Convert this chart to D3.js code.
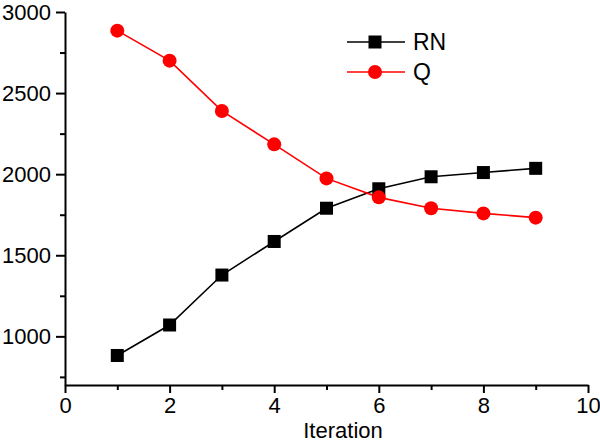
<!DOCTYPE html>
<html><head><meta charset="utf-8">
<script src="https://cdn.jsdelivr.net/npm/d3@7"></script>
<style>body{margin:0;background:#fff;} svg{display:block;font-family:"Liberation Sans",Arial,sans-serif;}</style>
</head><body>
<svg id="c" width="600" height="443"></svg>
<script>
const iterations = [1,2,3,4,5,6,7,8,9];
const rnValues = [882,1070,1378,1585,1790,1910,1984,2010,2036];
const qValues = [2885,2700,2390,2184,1974,1857,1790,1758,1732];
const xMajorTicks = [0,2,4,6,8,10];
const xMinorTicks = [1,3,5,7,9];
const yMajorTicks = [1000,1500,2000,2500,3000];
const yMinorTicks = [750,1250,1750,2250,2750];
const seriesNames = ["RN","Q"];
const xTitle = "Iteration";

const svg = d3.select("#c");
const x = d3.scaleLinear().domain([0,10]).range([65,588]);
const y = d3.scaleLinear().domain([700,3000]).range([385,12]);

// minor ticks
svg.append("g").attr("transform","translate(0,385)")
  .call(d3.axisBottom(x).tickValues(xMinorTicks).tickSize(5).tickFormat("").tickSizeOuter(0))
  .call(g=>{g.select(".domain").remove(); g.selectAll("line").attr("stroke","#000").attr("stroke-width",2);});
svg.append("g").attr("transform","translate(65,0)")
  .call(d3.axisLeft(y).tickValues(yMinorTicks).tickSize(5).tickFormat("").tickSizeOuter(0))
  .call(g=>{g.select(".domain").remove(); g.selectAll("line").attr("stroke","#000").attr("stroke-width",2);});

// major axes
svg.append("g").attr("transform","translate(0,385)")
  .call(d3.axisBottom(x).tickValues(xMajorTicks).tickSize(8).tickSizeOuter(0).tickPadding(4).tickFormat(d3.format("d")))
  .call(g=>{g.select(".domain").attr("stroke","#000").attr("stroke-width",2);
    g.selectAll("line").attr("stroke","#000").attr("stroke-width",2);
    g.selectAll("text").attr("font-size",22).attr("fill","#000").attr("font-family","Liberation Sans, Arial, sans-serif");});
svg.append("g").attr("transform","translate(65,0)")
  .call(d3.axisLeft(y).tickValues(yMajorTicks).tickSize(9).tickSizeOuter(0).tickPadding(5).tickFormat(d3.format("d")))
  .call(g=>{g.select(".domain").attr("stroke","#000").attr("stroke-width",2);
    g.selectAll("line").attr("stroke","#000").attr("stroke-width",2);
    g.selectAll("text").attr("font-size",22).attr("fill","#000").attr("font-family","Liberation Sans, Arial, sans-serif");});

svg.append("text").attr("x",343).attr("y",437.5).attr("text-anchor","middle")
  .attr("font-size",22).attr("fill","#000").text(xTitle);

const line = d3.line().x((d,i)=>x(iterations[i])).y(d=>y(d));

// RN
svg.append("path").datum(rnValues).attr("d",line).attr("fill","none").attr("stroke","#000").attr("stroke-width",1.6);
// Q
svg.append("path").datum(qValues).attr("d",line).attr("fill","none").attr("stroke","#f00").attr("stroke-width",1.6);

svg.append("g").selectAll("rect").data(rnValues).join("rect")
  .attr("x",(d,i)=>x(iterations[i])-6.5).attr("y",d=>y(d)-6.5).attr("width",13).attr("height",13).attr("fill","#000");
svg.append("g").selectAll("circle").data(qValues).join("circle")
  .attr("cx",(d,i)=>x(iterations[i])).attr("cy",d=>y(d)).attr("r",7).attr("fill","#f00");

// legend
const lg = svg.append("g");
const rows = [{name:seriesNames[0],color:"#000",shape:"square",y:42},{name:seriesNames[1],color:"#f00",shape:"circle",y:72}];
rows.forEach(r=>{
  lg.append("line").attr("x1",347).attr("x2",405).attr("y1",r.y).attr("y2",r.y).attr("stroke",r.color).attr("stroke-width",1.6);
  if(r.shape==="square") lg.append("rect").attr("x",375-6.5).attr("y",r.y-6.5).attr("width",13).attr("height",13).attr("fill",r.color);
  else lg.append("circle").attr("cx",375).attr("cy",r.y).attr("r",7).attr("fill",r.color);
  lg.append("text").attr("x",413).attr("y",r.y).attr("dy","0.36em").attr("font-size",23).attr("fill","#000").text(r.name);
});
</script>
</body></html>
